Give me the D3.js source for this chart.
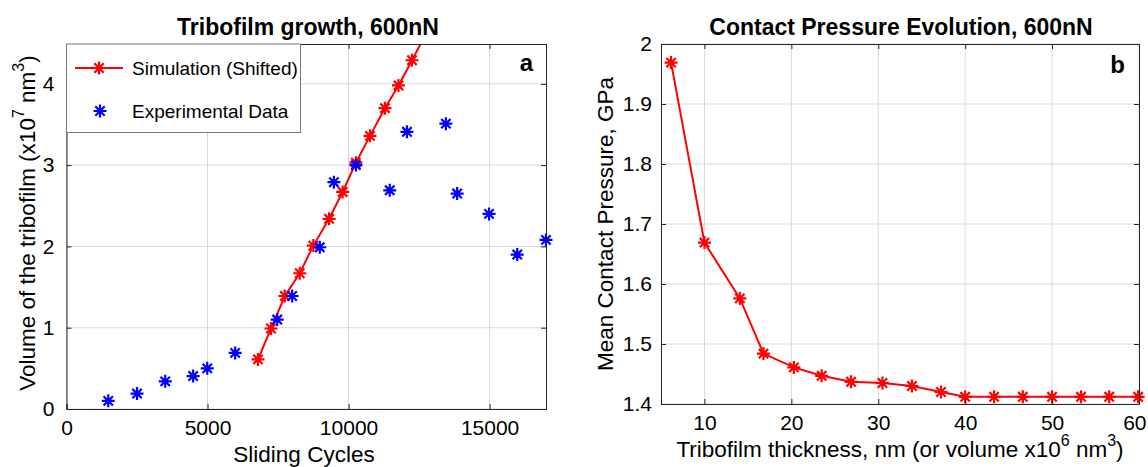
<!DOCTYPE html>
<html>
<head>
<meta charset="utf-8">
<script src="https://cdn.jsdelivr.net/npm/d3@7"></script>
<style>
body{margin:0;background:#fff;}
text{font-family:"Liberation Sans",Arial,Helvetica,sans-serif;fill:#000;}
</style>
</head>
<body>
<svg id="chart" width="1148" height="467"></svg>
<script>
// panel a : tribofilm growth
var simCycles = [6790, 7250, 7740, 8270, 8750, 9310, 9790, 10260, 10760, 11290, 11770, 12250, 12720];
var simVolume = [0.61, 0.99, 1.39, 1.67, 2.01, 2.34, 2.67, 3.03, 3.36, 3.70, 3.98, 4.29, 4.60];
var expCycles = [1480, 2500, 3500, 4490, 4990, 5980, 7470, 8000, 8980, 9480, 10260, 11460, 12070, 13450, 13850, 14980, 15980, 17000];
var expVolume = [0.10, 0.19, 0.34, 0.405, 0.50, 0.69, 1.10, 1.39, 1.99, 2.79, 3.00, 2.69, 3.41, 3.51, 2.65, 2.40, 1.90, 2.08];
var cycleTicks = [0, 5000, 10000, 15000];
var volumeTicks = [0, 1, 2, 3, 4];

// panel b : contact pressure
var thickness = [6.16, 10.0, 14.07, 16.79, 20.29, 23.48, 26.87, 30.48, 33.87, 37.22, 40.0, 43.33, 46.63, 50.0, 53.33, 56.57, 59.9];
var pressure = [1.969, 1.669, 1.576, 1.484, 1.461, 1.447, 1.437, 1.435, 1.430, 1.420, 1.412, 1.412, 1.412, 1.412, 1.412, 1.412, 1.412];
var thicknessTicks = [10, 20, 30, 40, 50, 60];
var pressureTicks = [1.4, 1.5, 1.6, 1.7, 1.8, 1.9, 2];

var svg = d3.select("#chart");
var axisColor = "#262626";
var gridColor = "#d9d9d9";

// asterisk marker like matlab '*'
function star(r){
    var d = r * 0.72;
    return "M" + (-r) + ",0H" + r + "M0," + (-r) + "V" + r +
        "M" + (-d) + "," + (-d) + "L" + d + "," + d +
        "M" + (-d) + "," + d + "L" + d + "," + (-d);
}

// markers are drawn whole when their centre is inside the axes
function inside(x, y){
    return d => d.x >= x.domain()[0] && d.x <= x.domain()[1] && d.y >= y.domain()[0] && d.y <= y.domain()[1];
}

// clip rect + grid of one panel
function drawFrame(id, x, y, xTicks, yTicks){
    var x0 = x.range()[0], x1 = x.range()[1];
    var y0 = y.range()[0], y1 = y.range()[1];
    var g = svg.append("g");
    svg.append("clipPath").attr("id", id).append("rect")
        .attr("x", x0).attr("y", y1).attr("width", x1 - x0).attr("height", y0 - y1);
    //grid
    g.selectAll(".vg").data(xTicks).enter().append("line")
        .attr("x1", d => x(d)).attr("x2", d => x(d))
        .attr("y1", y1).attr("y2", y0)
        .attr("stroke", gridColor).attr("stroke-width", 1);
    g.selectAll(".hg").data(yTicks).enter().append("line")
        .attr("x1", x0).attr("x2", x1)
        .attr("y1", d => y(d)).attr("y2", d => y(d))
        .attr("stroke", gridColor).attr("stroke-width", 1);
    return g;
}

function drawAxes(g, x, y, xTicks, yTicks, yPad){
    var x0 = x.range()[0], x1 = x.range()[1];
    var y0 = y.range()[0], y1 = y.range()[1];
    //inward ticks on all four sides
    var bx = g.append("g").attr("transform", `translate(0,${y0})`)
        .call(d3.axisBottom(x).tickValues(xTicks).tickSize(-5).tickFormat(d => d).tickPadding(11));
    g.append("g").attr("transform", `translate(0,${y1})`)
        .call(d3.axisTop(x).tickValues(xTicks).tickSize(-5).tickFormat(""));
    g.append("g").attr("transform", `translate(${x0},0)`)
        .call(d3.axisLeft(y).tickValues(yTicks).tickSize(-5).tickFormat(d => d).tickPadding(yPad));
    g.append("g").attr("transform", `translate(${x1},0)`)
        .call(d3.axisRight(y).tickValues(yTicks).tickSize(-5).tickFormat(""));
    g.selectAll(".domain").attr("stroke", axisColor).attr("stroke-width", 1);
    g.selectAll(".tick line").attr("stroke", axisColor);
    g.selectAll(".tick text").attr("font-size", 21).attr("fill", "#000")
        .attr("font-family", "Liberation Sans, Arial, sans-serif");
    return bx;
}

// ---------- panel a ----------
var xA = d3.scaleLinear().domain([0, 17000]).range([66.5, 546]);
var yA = d3.scaleLinear().domain([0, 4.49]).range([409, 44]);
var gA = drawFrame("clipA", xA, yA, cycleTicks, volumeTicks);

var simA = simCycles.map((c, i) => ({x: c, y: simVolume[i]}));
var expA = expCycles.map((c, i) => ({x: c, y: expVolume[i]}));

gA.append("path").datum(simA).attr("clip-path", "url(#clipA)")
    .attr("d", d3.line().x(d => xA(d.x)).y(d => yA(d.y)))
    .attr("fill", "none").attr("stroke", "#ff0000").attr("stroke-width", 2);
gA.selectAll(".sim").data(simA.filter(inside(xA, yA))).enter().append("path")
    .attr("transform", d => `translate(${xA(d.x)},${yA(d.y)})`)
    .attr("d", star(6.5)).attr("stroke", "#ff0000").attr("stroke-width", 2.2).attr("fill", "none");
gA.selectAll(".exp").data(expA.filter(inside(xA, yA))).enter().append("path")
    .attr("transform", d => `translate(${xA(d.x)},${yA(d.y)})`)
    .attr("d", star(6.5)).attr("stroke", "#0000ff").attr("stroke-width", 2.2).attr("fill", "none");

drawAxes(gA, xA, yA, cycleTicks, volumeTicks, 12);

//legend
var leg = gA.append("g");
leg.append("rect").attr("x", 66.5).attr("y", 44).attr("width", 234).attr("height", 88.5)
    .attr("fill", "#fff").attr("stroke", "#777").attr("stroke-width", 1);
leg.append("line").attr("x1", 75).attr("x2", 123).attr("y1", 68).attr("y2", 68)
    .attr("stroke", "#ff0000").attr("stroke-width", 2);
leg.append("path").attr("transform", "translate(99,68)").attr("d", star(6.5))
    .attr("stroke", "#ff0000").attr("stroke-width", 2.2).attr("fill", "none");
leg.append("path").attr("transform", "translate(100,111)").attr("d", star(6.5))
    .attr("stroke", "#0000ff").attr("stroke-width", 2.2).attr("fill", "none");
leg.append("text").attr("x", 132).attr("y", 68).attr("dy", "0.35em").attr("font-size", 19)
    .text("Simulation (Shifted)");
leg.append("text").attr("x", 132).attr("y", 111).attr("dy", "0.35em").attr("font-size", 19)
    .text("Experimental Data");

gA.append("text").attr("x", 533).attr("y", 71).attr("text-anchor", "end")
    .attr("font-size", 24).attr("font-weight", "bold").text("a");
gA.append("text").attr("x", 308).attr("y", 35).attr("text-anchor", "middle")
    .attr("font-size", 23).attr("font-weight", "bold").text("Tribofilm growth, 600nN");
gA.append("text").attr("x", 304).attr("y", 462).attr("text-anchor", "middle")
    .attr("font-size", 22.5).text("Sliding Cycles");
var ylA = gA.append("text").attr("transform", "translate(35,223) rotate(-90)")
    .attr("text-anchor", "middle").attr("font-size", 22.5);
ylA.append("tspan").text("Volume of the tribofilm (x10");
ylA.append("tspan").attr("dy", -11).attr("font-size", 16).text("7");
ylA.append("tspan").attr("dy", 11).text(" nm");
ylA.append("tspan").attr("dy", -11).attr("font-size", 16).text("3");
ylA.append("tspan").attr("dy", 11).text(")");

// ---------- panel b ----------
var xB = d3.scaleLinear().domain([5, 60]).range([661, 1139]);
var yB = d3.scaleLinear().domain([1.4, 2]).range([404, 44]);
var gB = drawFrame("clipB", xB, yB, thicknessTicks, pressureTicks);

var simB = thickness.map((t, i) => ({x: t, y: pressure[i]}));
gB.append("path").datum(simB).attr("clip-path", "url(#clipB)")
    .attr("d", d3.line().x(d => xB(d.x)).y(d => yB(d.y)))
    .attr("fill", "none").attr("stroke", "#ff0000").attr("stroke-width", 2);
gB.selectAll(".pt").data(simB.filter(inside(xB, yB))).enter().append("path")
    .attr("transform", d => `translate(${xB(d.x)},${yB(d.y)})`)
    .attr("d", star(6.5)).attr("stroke", "#ff0000").attr("stroke-width", 2.2).attr("fill", "none");

var bxB = drawAxes(gB, xB, yB, thicknessTicks, pressureTicks, 9);
// last label sits against the figure edge
bxB.selectAll(".tick text").filter(d => d === 60).attr("text-anchor", "end").attr("x", 7);

gB.append("text").attr("x", 1125).attr("y", 73).attr("text-anchor", "end")
    .attr("font-size", 24).attr("font-weight", "bold").text("b");
gB.append("text").attr("x", 901).attr("y", 35).attr("text-anchor", "middle")
    .attr("font-size", 23).attr("font-weight", "bold").text("Contact Pressure Evolution, 600nN");
var xlB = gB.append("text").attr("x", 900).attr("y", 457).attr("text-anchor", "middle")
    .attr("font-size", 22.5);
xlB.append("tspan").text("Tribofilm thickness, nm (or volume x10");
xlB.append("tspan").attr("dy", -11).attr("font-size", 16).text("6");
xlB.append("tspan").attr("dy", 11).text(" nm");
xlB.append("tspan").attr("dy", -11).attr("font-size", 16).text("3");
xlB.append("tspan").attr("dy", 11).text(")");
gB.append("text").attr("transform", "translate(613,224) rotate(-90)")
    .attr("text-anchor", "middle").attr("font-size", 22.5).text("Mean Contact Pressure, GPa");
</script>
</body>
</html>
